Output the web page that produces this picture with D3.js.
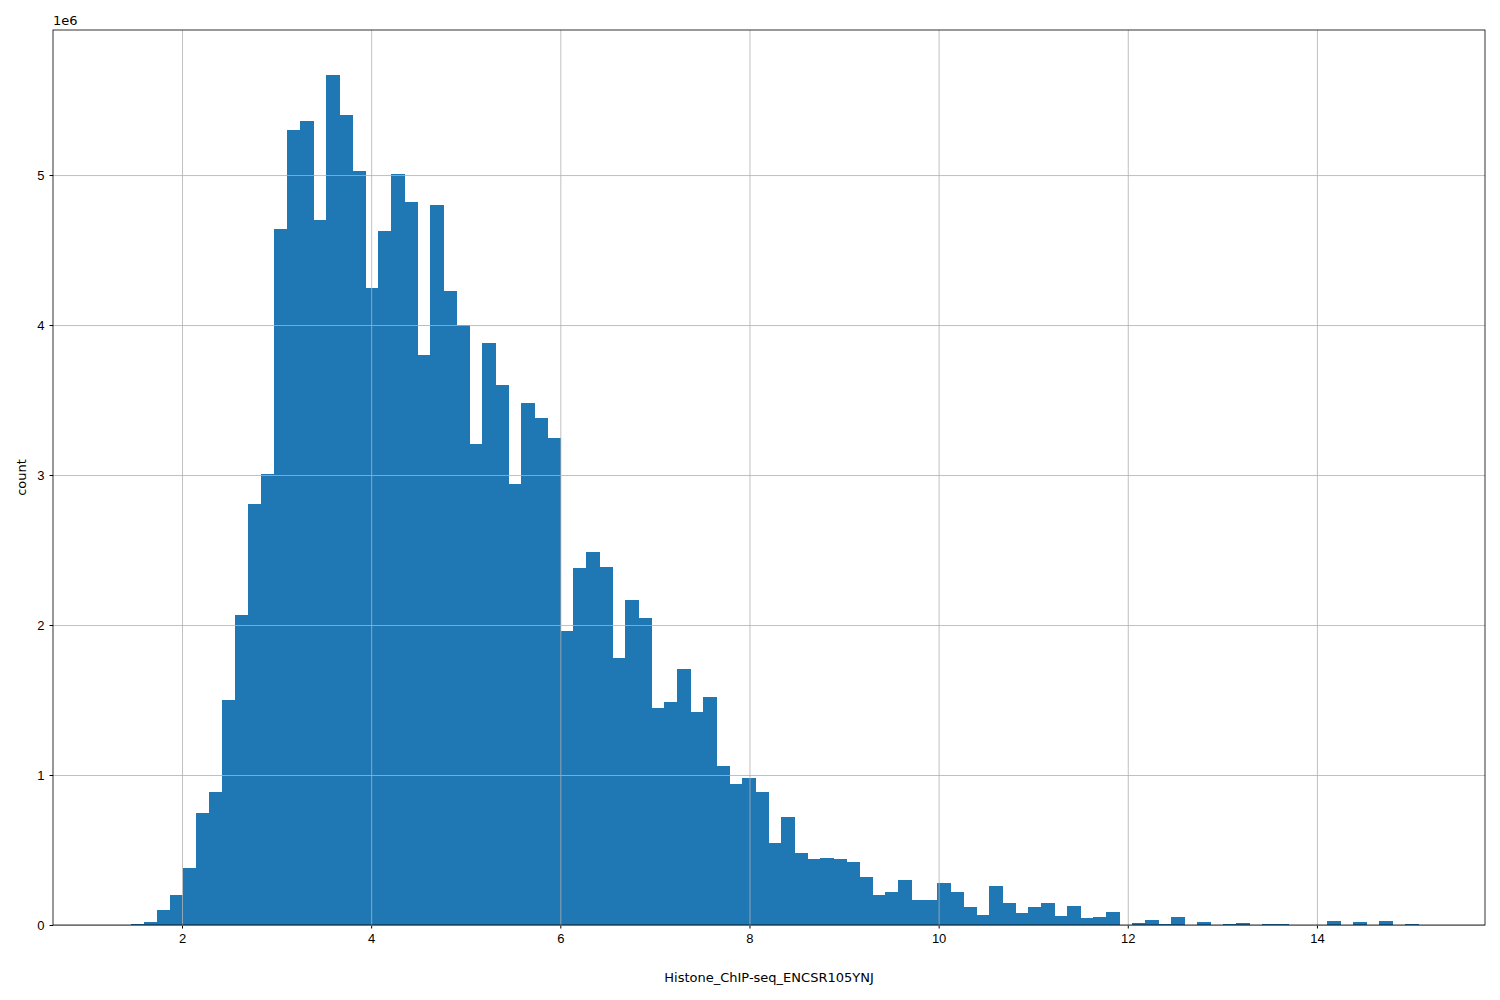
<!DOCTYPE html>
<html><head><meta charset="utf-8">
<script src="https://cdn.jsdelivr.net/npm/d3@7"></script>
<style>body{margin:0;background:#fff}svg{font-family:"DejaVu Sans",sans-serif}</style>
</head><body><svg id="c" width="1500" height="1000"></svg>
<script>
const binStart = 1.461;
const binWidth = 0.1375;
const counts = [0.005,0.02,0.1,0.2,0.38,0.75,0.89,1.5,2.07,2.81,3.01,4.64,5.3,5.36,4.7,5.67,5.4,5.03,4.25,4.63,5.01,4.82,3.8,4.8,4.23,4.0,3.21,3.88,3.6,2.94,3.48,3.38,3.25,1.96,2.38,2.49,2.39,1.78,2.17,2.05,1.45,1.49,1.71,1.42,1.52,1.06,0.94,0.98,0.89,0.55,0.72,0.48,0.44,0.45,0.44,0.42,0.32,0.2,0.22,0.3,0.17,0.165,0.28,0.22,0.12,0.07,0.26,0.15,0.08,0.12,0.15,0.06,0.13,0.05,0.055,0.085,0,0.015,0.035,0.01,0.055,0,0.02,0,0.005,0.012,0,0.01,0.005,0,0,0,0.025,0,0.02,0,0.025,0,0.007,0];
const xTicks = [2,4,6,8,10,12,14];
const yTicks = [0,1,2,3,4,5];
const xLabel = "Histone_ChIP-seq_ENCSR105YNJ";
const yLabel = "count";

const L=53,R=1485,T=30,B=925;
const svg=d3.select("#c");
const x=d3.scaleLinear().domain([0.636,15.777]).range([L,R]);
const y=d3.scaleLinear().domain([0,5.967]).range([B,T]);

const g=svg.append("g").attr("shape-rendering","crispEdges");
g.selectAll("rect").data(counts).join("rect")
 .attr("x",(d,i)=>x(binStart+i*binWidth))
 .attr("width",(d,i)=>x(binStart+(i+1)*binWidth)-x(binStart+i*binWidth)+0.6)
 .attr("y",d=>y(d)).attr("height",d=>B-y(d)).attr("fill","#1f77b4");

const gx=svg.append("g").attr("transform",`translate(0,${B})`)
 .call(d3.axisBottom(x).tickValues(xTicks).tickFormat(d3.format("d")).tickSize(3.5).tickPadding(5));
gx.selectAll(".tick").append("line").attr("y1",0).attr("y2",-(B-T)).attr("stroke","#b0b0b0").attr("stroke-width",0.8);
const gy=svg.append("g").attr("transform",`translate(${L},0)`)
 .call(d3.axisLeft(y).tickValues(yTicks).tickFormat(d3.format("d")).tickSize(3.5).tickPadding(5));
gy.selectAll(".tick").append("line").attr("x1",0).attr("x2",R-L).attr("stroke","#b0b0b0").attr("stroke-width",0.8);
svg.selectAll(".domain").remove();
svg.selectAll(".tick text").attr("font-size",13).attr("fill","#000");
svg.append("rect").attr("x",L).attr("y",T).attr("width",R-L).attr("height",B-T).attr("fill","none").attr("stroke","#000").attr("stroke-width",0.8);
svg.append("text").attr("x",L).attr("y",T-5).attr("font-size",13).text("1e6");
svg.append("text").attr("x",(L+R)/2).attr("y",982).attr("text-anchor","middle").attr("font-size",13).text(xLabel);
svg.append("text").attr("transform",`translate(26,${(T+B)/2}) rotate(-90)`).attr("text-anchor","middle").attr("font-size",13).text(yLabel);
</script></body></html>
